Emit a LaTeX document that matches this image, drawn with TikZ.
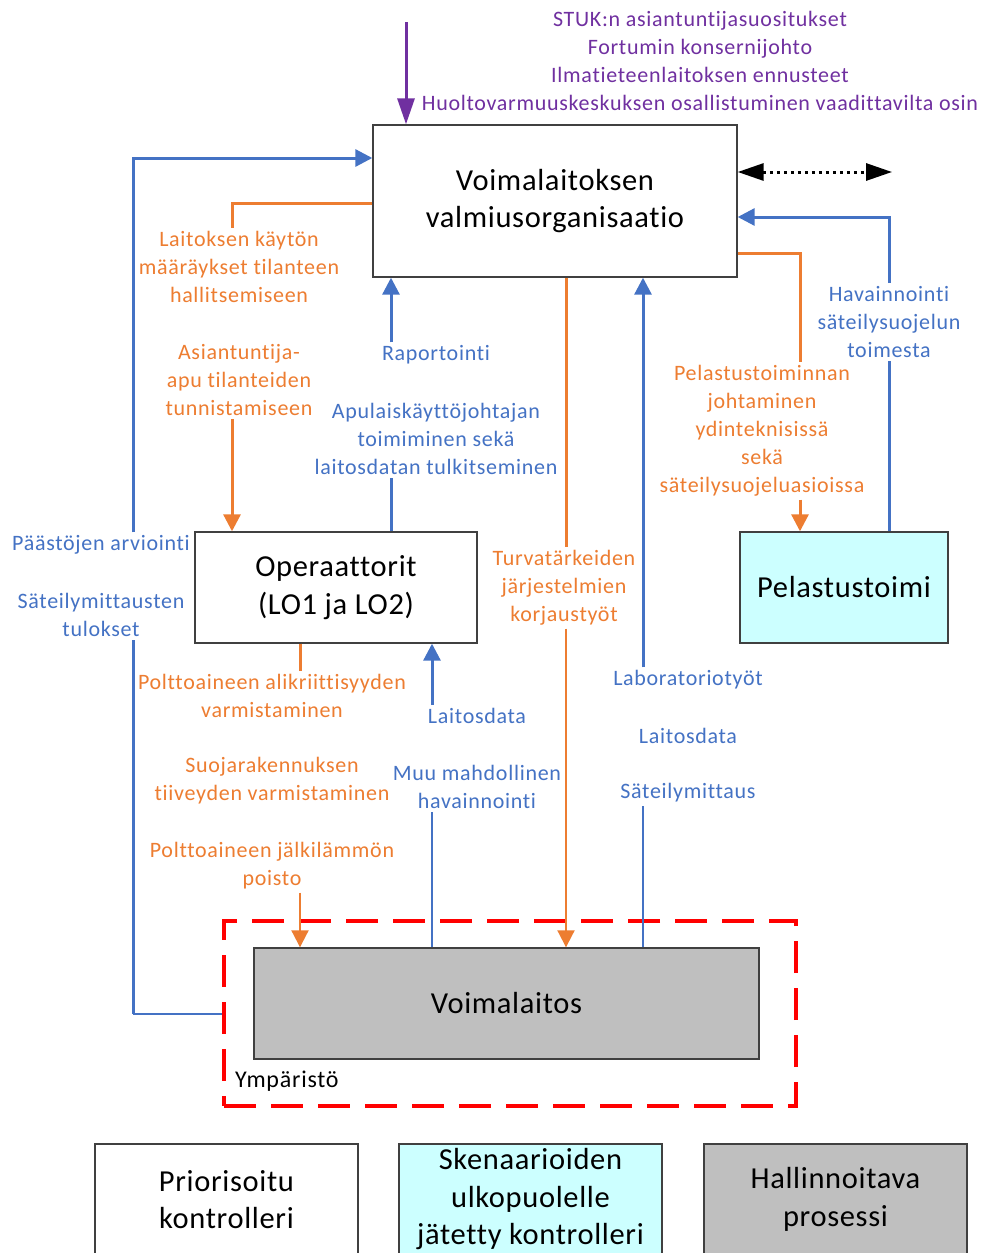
\documentclass[tikz,border=0pt]{standalone}
\usepackage{fontspec}
\setmainfont{Carlito}[LetterSpace=3.2,Ligatures=NoCommon]
\newfontfamily\boxfont{Carlito}[LetterSpace=2.2,Ligatures=NoCommon]
\usetikzlibrary{arrows.meta}
\definecolor{purp}{HTML}{7030A0}
\definecolor{blu}{HTML}{4472C4}
\definecolor{orng}{HTML}{ED7D31}
\definecolor{cyn}{HTML}{CCFFFF}
\definecolor{gry}{HTML}{BFBFBF}

\begin{document}
\begin{tikzpicture}[x=1pt,y=-1pt]
      \tikzstyle{box} = [draw=black!75,line width=1.4pt,inner sep=0pt,align=center,font=\boxfont\fontsize{30.5}{37.5}\selectfont]
      \tikzstyle{lbl} = [inner sep=3pt,align=center,font=\fontsize{22}{28}\selectfont]
      \tikzstyle{bedge} = [line width=3pt,draw=blu,>={Triangle[length=17pt,width=17pt]}]
      \tikzstyle{oedge} = [line width=3pt,draw=orng,>={Triangle[length=17pt,width=17pt]}]
      \tikzstyle{fine} = [line width=2pt]
      \useasboundingbox[fill=white] (0,0) rectangle (982,1253);
      \clip (0,0) rectangle (982,1253);

      \node[box,minimum width=364pt,minimum height=152pt] (main) at (555,201) {Voimalaitoksen\\valmiusorganisaatio};
      \node[box,minimum width=282pt,minimum height=111pt] (oper) at (336,587.5) {Operaattorit\\(LO1 ja LO2)};
      \node[box,fill=cyn,minimum width=208pt,minimum height=111pt] (pel) at (844,587.5) {Pelastustoimi};
      \node[draw=red,line width=4pt,dash pattern=on 32pt off 15pt,minimum width=572pt,minimum height=185pt] (env) at (510,1013.5) {};
      \node[box,fill=gry,minimum width=505pt,minimum height=111pt] (plant) at (506.5,1003.5) {Voimalaitos};
      \node[lbl,anchor=west,font=\fontsize{24}{28}\selectfont] (ymp) at (232,1081) {Ympäristö};

      \node[box,minimum width=263pt,minimum height=111pt] (lprio) at (226.5,1199.5) {Priorisoitu\\kontrolleri};
      \node[box,fill=cyn,minimum width=263pt,minimum height=111pt] (lsken) at (530.5,1199.5) {Skenaarioiden\\ulkopuolelle\\jätetty kontrolleri};
      \node[box,fill=gry,minimum width=263pt,minimum height=111pt] (lhall) at (835.5,1199.5) {Hallinnoitava\\prosessi};

      \node[lbl,text=purp] (ext) at (700,60.5) {STUK:n asiantuntijasuositukset\\Fortumin konsernijohto\\Ilmatieteenlaitoksen ennusteet\\Huoltovarmuuskeskuksen osallistuminen vaadittavilta osin};
      \node[lbl,text=orng] (lkayt) at (239,266.5) {Laitoksen käytön\\määräykset tilanteen\\hallitsemiseen};
      \node[lbl,text=orng] (asiant) at (239,380.5) {Asiantuntija-\\apu tilanteiden\\tunnistamiseen};
      \node[lbl,text=blu] (rapo) at (436,355) {Raportointi};
      \node[lbl,text=blu] (apul) at (436,439) {Apulaiskäyttöjohtajan\\toimiminen sekä\\laitosdatan tulkitseminen};
      \node[lbl,text=orng] (turva) at (564,588) {Turvatärkeiden\\järjestelmien\\korjaustyöt};
      \node[lbl,text=blu] (havain) at (889,322) {Havainnointi\\säteilysuojelun\\toimesta};
      \node[lbl,text=orng] (pelast) at (762,431) {Pelastustoiminnan\\johtaminen\\ydinteknisissä\\sekä\\säteilysuojeluasioissa};
      \node[lbl,text=blu] (paast) at (101,545) {Päästöjen arviointi};
      \node[lbl,text=blu] (satmit) at (101,615) {Säteilymittausten\\tulokset};
      \node[lbl,text=orng] (alikr) at (272,696) {Polttoaineen alikriittisyyden\\varmistaminen};
      \node[lbl,text=orng] (suoj) at (272,781) {Suojarakennuksen\\tiiveyden varmistaminen};
      \node[lbl,text=orng] (jalki) at (272,866) {Polttoaineen jälkilämmön\\poisto};
      \node[lbl,text=blu] (ldata) at (477,716) {Laitosdata};
      \node[lbl,text=blu] (muuhav) at (477,787) {Muu mahdollinen\\havainnointi};
      \node[lbl,text=blu] (labor) at (688,680) {Laboratoriotyöt};
      \node[lbl,text=blu] (ldata2) at (688,736) {Laitosdata};
      \node[lbl,text=blu] (satm) at (688,793) {Säteilymittaus};

      \coordinate (src) at (406,22);
      \coordinate (dot) at (892,172);
      \coordinate (lcol) at (133,158);
      \coordinate (ocol) at (232,203);
      \coordinate (rcol) at (391,277);
      \coordinate (tcol) at (566,277);
      \coordinate (bcol) at (643,277);
      \coordinate (pcol) at (800,253);
      \coordinate (hcol) at (889,217);
      \coordinate (acol) at (300,643);
      \coordinate (dcol) at (432,643);

      \draw[line width=3pt,draw=purp,-{Triangle[length=26pt,width=17pt]}] (src) -- (main.north -| src);
      \draw[line width=3pt,dash pattern=on 3pt off 4pt,{Triangle[length=26pt,width=17pt]}-{Triangle[length=26pt,width=17pt]}] (main.east |- dot) -- (dot);
      \draw[bedge,fine] (env.west) -- (env.west -| lcol);
      \draw[bedge] (env.west -| lcol) -- (satmit.south -| lcol);
      \draw[bedge,->] (paast.north -| lcol) |- (main.west |- lcol);
      \draw[oedge] (main.west |- ocol) -| (lkayt.north -| ocol);
      \draw[oedge,->] (asiant.south -| ocol) -- (oper.north -| ocol);
      \draw[bedge] (oper.north -| rcol) -- (apul.south -| rcol);
      \draw[bedge,->] (rapo.north -| rcol) -- (main.south -| rcol);
      \draw[oedge] (main.south -| tcol) -- (turva.north -| tcol);
      \draw[oedge,fine,->] (turva.south -| tcol) -- (plant.north -| tcol);
      \draw[bedge,fine] (plant.north -| bcol) -- (satm.south -| bcol);
      \draw[bedge,->] (labor.north -| bcol) -- (main.south -| bcol);
      \draw[oedge] (main.east |- pcol) -| (pelast.north -| pcol);
      \draw[oedge,->] (pelast.south -| pcol) -- (pel.north -| pcol);
      \draw[bedge] (pel.north -| hcol) -- (havain.south -| hcol);
      \draw[bedge,->] (havain.north -| hcol) |- (main.east |- hcol);
      \draw[oedge] (oper.south -| acol) -- (alikr.north -| acol);
      \draw[oedge,fine,->] (jalki.south -| acol) -- (plant.north -| acol);
      \draw[bedge,fine] (plant.north -| dcol) -- (muuhav.south -| dcol);
      \draw[bedge,->] (ldata.north -| dcol) -- (oper.south -| dcol);
\end{tikzpicture}
\end{document}
